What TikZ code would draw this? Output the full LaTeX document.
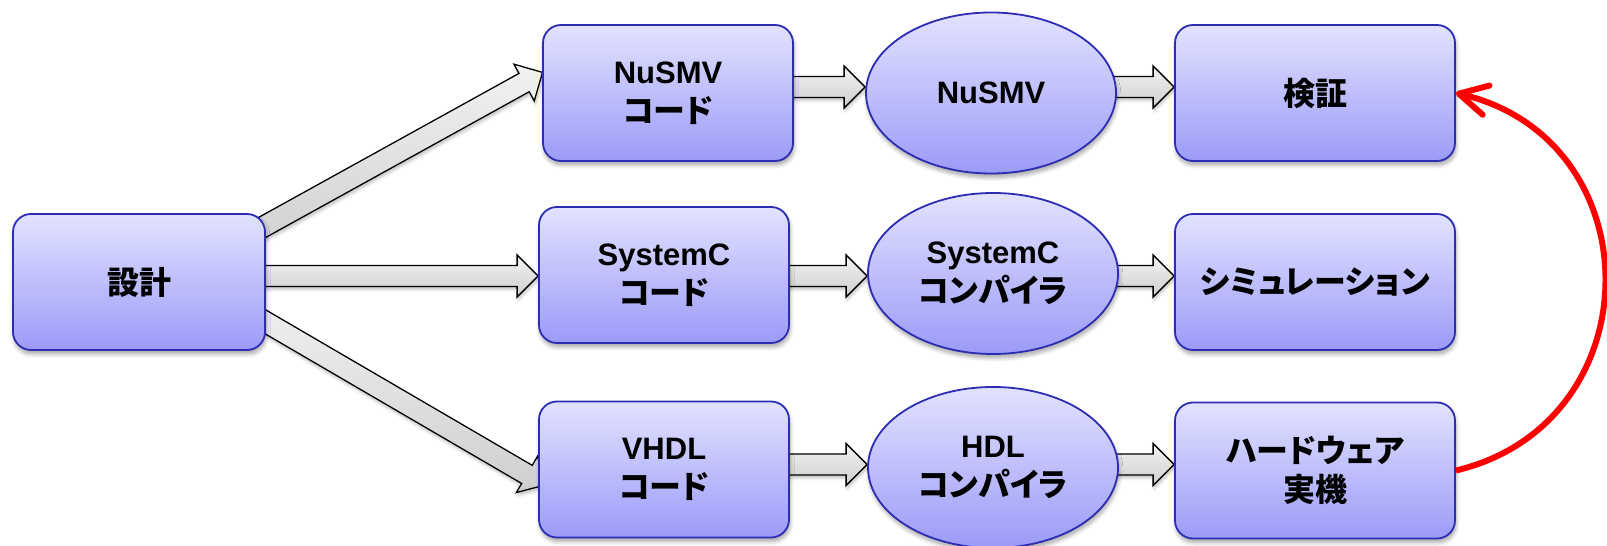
\documentclass[tikz,border=0pt]{standalone}
\usepackage{fontspec}
\setmainfont{Liberation Sans}
\newfontfamily\jp{Noto Sans CJK JP Bold}[RawFeature=+palt,Scale=1.03]
\usetikzlibrary{arrows.meta,calc,shapes.geometric,shadows.blur}

\definecolor{boxtop}{RGB}{226,226,255}
\definecolor{boxbot}{RGB}{155,155,248}
\definecolor{boxline}{RGB}{45,45,180}

\pgfdeclarelayer{bg}
\pgfsetlayers{bg,main}

\tikzset{
  base/.style={draw=boxline, line width=1.8pt, top color=boxtop, bottom color=boxbot,
    inner sep=0pt, align=center, font=\fontsize{31}{39}\selectfont\bfseries,
    blur shadow={shadow xshift=1pt, shadow yshift=-4pt, shadow blur steps=6,
      shadow opacity=35, shadow blur radius=4pt}},
  stagebox/.style={base, rectangle, rounded corners=18pt, minimum width=#1, minimum height=136pt},
  tool/.style={base, ellipse, minimum width=250pt, minimum height=161pt},
  fat/.style={draw=black, line width=1.3pt, top color=gray!10, bottom color=gray!38,
    line join=miter,
    blur shadow={shadow xshift=1pt, shadow yshift=-3pt, shadow blur steps=5,
      shadow opacity=25, shadow blur radius=3pt}},
  feedback/.style={draw=red, line width=6pt,
    -{Straight Barb[length=28pt,width=30pt,line cap=round,line join=round]}},
}

% block arrow from #1 (tail) to #2 (tip)
\newcommand\fatarrow[2]{%
  \path (#1); \pgfgetlastxy{\fax}{\fay}%
  \path (#2); \pgfgetlastxy{\fbx}{\fby}%
  \pgfmathsetmacro\faang{atan2(\fby-\fay,\fbx-\fax)}%
  \pgfmathsetmacro\falen{veclen(\fbx-\fax,\fby-\fay)}%
  \draw[fat, shift={(\fax,\fay)}, rotate=\faang]
    (0pt,-10.5pt) -- ({\falen pt-21pt},-10.5pt) -- ({\falen pt-21pt},-21pt)
    -- (\falen pt,0pt) -- ({\falen pt-21pt},21pt) -- ({\falen pt-21pt},10.5pt)
    -- (0pt,10.5pt) -- cycle;
}

\begin{document}
\begin{tikzpicture}[x=1pt,y=1pt]
\useasboundingbox (0,0) rectangle (1607,546);

% stages
\node[stagebox=252pt] (design) at (139,264) {{\jp 設計}};

\node[stagebox=250pt] (ncode) at (668,453) {NuSMV\\{\jp コード}};
\node[tool] (nsmv) at (991,453) {NuSMV};
\node[stagebox=280pt] (ver) at (1315,453) {{\jp 検証}};

\node[stagebox=250pt] (scode) at (664,271) {SystemC\\{\jp コード}};
\node[tool] (sccomp) at (993,272.5) {SystemC\\{\jp コンパイラ}};
\node[stagebox=280pt] (sim) at (1315,264) {{\jp シミュレーション}};

\node[stagebox=250pt] (vcode) at (664,76.5) {VHDL\\{\jp コード}};
\node[tool] (hdl) at (993,78.5) {HDL\\{\jp コンパイラ}};
\node[stagebox=280pt] (hw) at (1315,75.5) {{\jp ハードウェア}\\{\jp 実機}};

% arrow levels of the three rows
\coordinate (r1) at (0,459);
\coordinate (r2) at (0,270);
\coordinate (r3) at (0,81.5);

\begin{pgfonlayer}{bg}
\fatarrow{$(design.east)+(-40,34.5)$}{$(ncode.west)+(0.4,20.6)$}
\fatarrow{$(design.east |- r2)+(-10,0)$}{scode.west |- r2}
\fatarrow{$(design.east)+(-40,-16.8)$}{$(vcode.west)+(7,-15.5)$}

\fatarrow{$(ncode.east |- r1)+(-6,0)$}{nsmv.west |- r1}
\fatarrow{$(nsmv.east |- r1)+(-6,0)$}{ver.west |- r1}

\fatarrow{$(scode.east |- r2)+(-6,0)$}{sccomp.west |- r2}
\fatarrow{$(sccomp.east |- r2)+(-6,0)$}{sim.west |- r2}

\fatarrow{$(vcode.east |- r3)+(-6,0)$}{hdl.west |- r3}
\fatarrow{$(hdl.east |- r3)+(-6,0)$}{hw.west |- r3}
\end{pgfonlayer}

% feedback from the hardware back to verification
\draw[feedback] (hw.east) .. controls +(198,47) and +(199,-47) .. (ver.east);
\end{tikzpicture}
\end{document}
